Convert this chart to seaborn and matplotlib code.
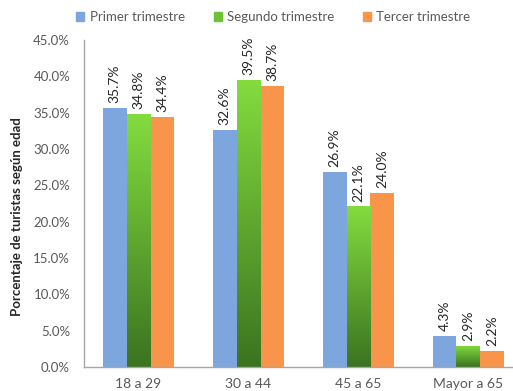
import numpy as np
import pandas as pd
import matplotlib
matplotlib.use("Agg")
import matplotlib.pyplot as plt
import seaborn as sns
from matplotlib.colors import LinearSegmentedColormap

# Age groups and the share of tourists per quarter (%)
grupos = ["18 a 29", "30 a 44", "45 a 65", "Mayor a 65"]
trimestres = ["Primer trimestre", "Segundo trimestre", "Tercer trimestre"]
primer = [35.7, 32.6, 26.9, 4.3]
segundo = [34.8, 39.5, 22.1, 2.9]
tercer = [34.4, 38.7, 24.0, 2.2]
yticks = [0, 5, 10, 15, 20, 25, 30, 35, 40, 45]

df = pd.DataFrame({
    "grupo": grupos * 3,
    "trimestre": np.repeat(trimestres, len(grupos)),
    "valor": primer + segundo + tercer,
})

sns.set_theme(style="white")
plt.rcParams["font.family"] = ["Lato", "DejaVu Sans"]

colores = {"Primer trimestre": "#7EA6DE", "Segundo trimestre": "#6CC233",
           "Tercer trimestre": "#F8954A"}
gris = "#595959"
fs = 9.5

fig = plt.figure(figsize=(5.13, 3.91), dpi=100)
ax = fig.add_axes([84 / 513, 24 / 391, 1 - 84 / 513 + 0.02, 327 / 391])

sns.barplot(data=df, x="grupo", y="valor", hue="trimestre", order=grupos,
            hue_order=trimestres, palette=colores, width=0.645,
            saturation=1, linewidth=0, legend=False, ax=ax)

ax.set_ylim(0, 45)
ax.set_yticks(yticks)
ax.set_yticklabels([f"{v:.1f}%" for v in yticks], color=gris, fontsize=fs)
ax.tick_params(axis="x", length=0, pad=8, labelsize=fs + 0.5, labelcolor=gris)
ax.tick_params(axis="y", length=0, pad=10)
ax.set_xlabel("")
ax.set_ylabel("Porcentaje de turistas según edad", fontsize=9.5,
              fontweight="bold", color="#262626")
ax.yaxis.set_label_coords(-0.138, 0.46)
for s in ["top", "right"]:
    ax.spines[s].set_visible(False)
for s in ["left", "bottom"]:
    ax.spines[s].set_color("#A6A6A6")
    ax.spines[s].set_linewidth(1)

# Green bars fade from bright at the top to dark at the base
verde = LinearSegmentedColormap.from_list("verde", ["#3B7320", "#84DC3F"])
grad = np.linspace(0, 1, 256).reshape(-1, 1)
for k, (cont, valores) in enumerate(zip(ax.containers, [primer, segundo, tercer])):
    for barra, v in zip(cont, valores):
        x0, w, h = barra.get_x(), barra.get_width(), barra.get_height()
        if k == 1:
            barra.set_facecolor("none")
            img = ax.imshow(grad, cmap=verde, origin="lower", aspect="auto",
                            extent=[x0, x0 + w, 0, h], zorder=barra.get_zorder())
            img.set_clip_path(barra)
        ax.annotate(f"{v:.1f}%", (x0 + w / 2, h), xytext=(0, 3.5),
                    textcoords="offset points", rotation=90, ha="center",
                    va="bottom", fontsize=fs + 0.5, color="#262626")
ax.set_xlim(-0.495, 3.5)
ax.set_ylim(0, 45)

handles = [plt.Rectangle((0, 0), 1, 1, color=colores[t]) for t in trimestres]
fig.legend(handles, trimestres, loc="center", bbox_to_anchor=(0.533, 0.956),
           ncol=3, frameon=False, fontsize=fs, labelcolor=gris,
           handlelength=0.6, handleheight=0.6, handletextpad=0.4,
           columnspacing=2.2)

fig.savefig("out.png", dpi=100)
